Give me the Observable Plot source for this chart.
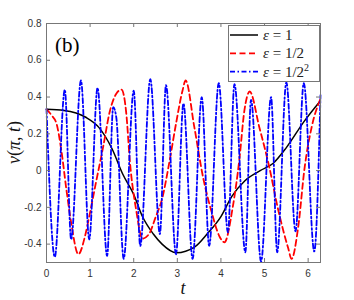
<!DOCTYPE html>
<html><head><meta charset="utf-8">
<script src="https://cdn.jsdelivr.net/npm/d3@7"></script>
<script src="https://cdn.jsdelivr.net/npm/@observablehq/plot@0.6"></script>
<style>body{margin:0;background:#fff} #chart{width:354px;height:300px}</style>
</head><body><div id="chart"></div>
<script>
// eps = 1 (black)
const tBlack = [0, 0.4, 0.9, 1.2, 1.5, 1.75, 2.0, 2.2, 2.45, 2.65, 2.98, 3.4, 3.7, 4.0, 4.25, 4.55, 4.9, 5.2, 5.5, 5.9, 6.283];
const vBlack = [0.333, 0.327, 0.29, 0.235, 0.12, -0.02, -0.13, -0.25, -0.345, -0.40, -0.447, -0.415, -0.34, -0.25, -0.14, -0.055, 0.0, 0.04, 0.125, 0.265, 0.38];
// eps = 1/2 (red)
const tRed = [0, 0.12, 0.23, 0.34, 0.46, 0.57, 0.73, 0.88, 0.98, 1.13, 1.3, 1.45, 1.6, 1.72, 1.83, 1.91, 2.06, 2.2, 2.35, 2.5, 2.66, 2.81, 2.97, 3.12, 3.19, 3.39, 3.59, 3.78, 3.97, 4.08, 4.27, 4.42, 4.54, 4.66, 4.88, 5.11, 5.3, 5.54, 5.62, 5.77, 5.92, 6.08, 6.283];
const vRed = [0.333, 0.30, 0.255, 0.11, -0.11, -0.29, -0.455, -0.36, -0.25, -0.07, 0.13, 0.32, 0.418, 0.44, 0.31, 0.055, -0.22, -0.37, -0.345, -0.255, -0.145, 0.036, 0.255, 0.436, 0.49, 0.236, -0.036, -0.22, -0.36, -0.39, -0.2, 0.055, 0.33, 0.43, 0.236, 0.018, -0.2, -0.42, -0.48, -0.31, 0.018, 0.236, 0.39];
// eps = 1/2^2 (blue)
const tBlue = [0, 0.19, 0.42, 0.565, 0.79, 0.98, 1.17, 1.39, 1.53, 1.6, 1.77, 2.0, 2.15, 2.38, 2.6, 2.74, 2.97, 3.14, 3.35, 3.56, 3.73, 3.95, 4.16, 4.31, 4.56, 4.69, 4.92, 5.15, 5.29, 5.5, 5.71, 5.9, 6.14, 6.283];
const vBlue = [0.336, -0.47, 0.44, -0.375, 0.49, -0.375, 0.45, -0.465, 0.345, 0.29, -0.48, 0.435, -0.41, 0.497, -0.345, 0.465, -0.455, 0.365, -0.48, 0.40, -0.41, 0.476, -0.336, 0.47, -0.445, 0.385, -0.495, 0.40, -0.445, 0.48, -0.33, 0.476, -0.44, 0.41];

const xTicks = [0, 1, 2, 3, 4, 5, 6];
const yTicks = [-0.4, -0.2, 0, 0.2, 0.4, 0.6, 0.8];
const seriesNames = ["1", "1/2", "1/2"];   // ε = ..., last one squared
const seriesColors = ["#000000", "#ff0000", "#0000ff"];
const seriesDash = [null, "6,3.5", "5,2.5,1.5,2.5"];

const toRows = (ts, vs) => ts.map((t, i) => ({t, v: vs[i]}));
const black = toRows(tBlack, vBlack), red = toRows(tRed, vRed), blue = toRows(tBlue, vBlue);

const W = 354, H = 300, ML = 46, MR = 34, MT = 23, MB = 38;
const fw = W - ML - MR, fh = H - MT - MB;
const axisColor = "#777";

const chart = Plot.plot({
  width: W, height: H,
  marginLeft: ML, marginRight: MR, marginTop: MT, marginBottom: MB,
  x: {domain: [0, 2 * Math.PI]},
  y: {domain: [-0.5, 0.8]},
  style: {background: "white", fontFamily: "'Liberation Sans', Arial, sans-serif"},
  marks: [
    Plot.line(black, {x: "t", y: "v", stroke: seriesColors[0], strokeWidth: 1.5, curve: "monotone-x"}),
    Plot.line(red, {x: "t", y: "v", stroke: seriesColors[1], strokeWidth: 1.8, strokeDasharray: seriesDash[1], curve: "monotone-x"}),
    Plot.line(blue, {x: "t", y: "v", stroke: seriesColors[2], strokeWidth: 1.8, strokeDasharray: seriesDash[2], curve: "monotone-x"}),
    Plot.frame({stroke: axisColor, strokeWidth: 1}),
    Plot.tickX(xTicks, {x: d => d, insetTop: fh - 4, stroke: axisColor}),
    Plot.tickX(xTicks, {x: d => d, insetBottom: fh - 4, stroke: axisColor}),
    Plot.tickY(yTicks, {y: d => d, insetRight: fw - 4, stroke: axisColor}),
    Plot.tickY(yTicks, {y: d => d, insetLeft: fw - 4, stroke: axisColor}),
    Plot.axisX({ticks: xTicks, tickSize: 0, tickPadding: 7, label: null, fontSize: 10, color: "#333", tickFormat: d => String(d)}),
    Plot.axisY({ticks: yTicks, tickSize: 0, tickPadding: 5, label: null, fontSize: 10, color: "#333", tickFormat: d => String(d)})
  ]
});
document.getElementById("chart").appendChild(chart);

const svg = d3.select(chart);
const serif = "'Liberation Serif', 'Times New Roman', serif";

// y label v(π, t)
const yl = svg.append("text")
  .attr("transform", `translate(16,${MT + fh / 2}) rotate(-90)`)
  .attr("text-anchor", "middle").attr("dominant-baseline", "middle")
  .attr("font-family", serif).attr("font-size", 18).attr("fill", "#111");
yl.append("tspan").attr("font-style", "italic").text("v");
yl.append("tspan").text("(");
yl.append("tspan").attr("font-style", "italic").text("π");
yl.append("tspan").text(", ");
yl.append("tspan").attr("font-style", "italic").text("t");
yl.append("tspan").text(")");

// x label t
svg.append("text").attr("x", ML + fw / 2).attr("y", 294)
  .attr("text-anchor", "middle").attr("font-family", serif).attr("font-size", 18)
  .attr("font-style", "italic").attr("fill", "#111").text("t");

// panel tag
svg.append("text").attr("x", 55).attr("y", 52).attr("text-anchor", "start")
  .attr("font-family", serif).attr("font-size", 21).attr("fill", "#000").text("(b)");

// legend
const lg = svg.append("g");
lg.append("rect").attr("x", 228.5).attr("y", 25.5).attr("width", 91).attr("height", 56)
  .attr("fill", "white").attr("stroke", axisColor);
const rowsY = [35, 53.3, 71.7];
seriesNames.forEach((name, i) => {
  const y = rowsY[i];
  const ln = lg.append("line").attr("x1", 230).attr("x2", 258).attr("y1", y).attr("y2", y)
    .attr("stroke", seriesColors[i]).attr("stroke-width", i === 0 ? 1.5 : 1.8);
  if (seriesDash[i]) ln.attr("stroke-dasharray", seriesDash[i]);
  const tx = lg.append("text").attr("x", 263).attr("y", y + 5).attr("text-anchor", "start")
    .attr("font-family", serif).attr("font-size", 15).attr("fill", "#222");
  tx.append("tspan").attr("font-style", "italic").text("ε");
  tx.append("tspan").text(" = " + name);
  if (i === 2) tx.append("tspan").attr("font-size", 10).attr("dy", -6).text("2");
});
</script>
</body></html>
